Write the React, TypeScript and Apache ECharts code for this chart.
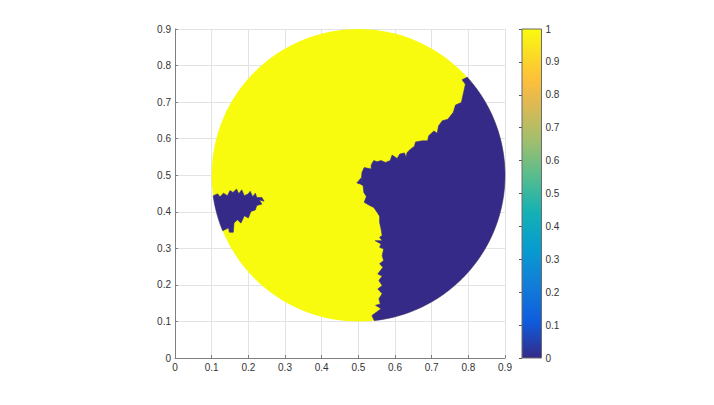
import React, { useEffect, useRef } from "react";
import * as echarts from "echarts";

// Axis ticks
const axisTicks = [0, 0.1, 0.2, 0.3, 0.4, 0.5, 0.6, 0.7, 0.8, 0.9];
const colorbarTicks = [0, 0.1, 0.2, 0.3, 0.4, 0.5, 0.6, 0.7, 0.8, 0.9, 1];

// Disk domain (value 1 everywhere except the regions below)
const diskCenter: [number, number] = [0.5, 0.5];
const diskRadius = 0.4;

// Boundary of the eastern region with value 0 (top -> bottom along the interface)
const eastBoundary: [number, number][] = [
  [0.795, 0.767], [0.783, 0.761], [0.792, 0.749], [0.781, 0.699], [0.765, 0.692],
  [0.759, 0.672], [0.744, 0.653], [0.729, 0.649], [0.719, 0.635], [0.715, 0.615],
  [0.706, 0.621], [0.692, 0.608], [0.689, 0.594], [0.674, 0.594], [0.656, 0.591],
  [0.653, 0.579], [0.642, 0.571], [0.633, 0.562], [0.630, 0.549], [0.626, 0.561],
  [0.613, 0.558], [0.606, 0.546], [0.592, 0.555], [0.587, 0.540], [0.574, 0.535],
  [0.562, 0.540], [0.551, 0.537], [0.542, 0.540], [0.535, 0.528], [0.535, 0.517],
  [0.516, 0.521], [0.510, 0.508], [0.507, 0.476], [0.513, 0.471], [0.515, 0.453],
  [0.522, 0.442], [0.516, 0.426], [0.531, 0.417], [0.542, 0.412], [0.551, 0.399],
  [0.558, 0.388], [0.558, 0.371], [0.562, 0.353], [0.565, 0.335], [0.558, 0.330],
  [0.565, 0.321], [0.546, 0.321], [0.562, 0.312], [0.558, 0.303], [0.569, 0.298],
  [0.565, 0.280], [0.569, 0.267], [0.558, 0.258], [0.567, 0.248], [0.553, 0.230],
  [0.565, 0.224], [0.556, 0.212], [0.565, 0.198], [0.553, 0.189], [0.565, 0.176],
  [0.556, 0.162], [0.560, 0.148], [0.547, 0.144], [0.562, 0.135], [0.537, 0.116],
  [0.543, 0.103],
];

// Boundary of the western region with value 0 (upper rim point -> lower rim point)
const westBoundary: [number, number][] = [
  [0.105, 0.444], [0.116, 0.449], [0.123, 0.441], [0.132, 0.451], [0.143, 0.444],
  [0.150, 0.458], [0.158, 0.453], [0.168, 0.462], [0.174, 0.449], [0.182, 0.460],
  [0.189, 0.444], [0.200, 0.449], [0.205, 0.456], [0.212, 0.441], [0.219, 0.451],
  [0.223, 0.439], [0.237, 0.439], [0.243, 0.429], [0.230, 0.432], [0.237, 0.421],
  [0.223, 0.417], [0.219, 0.405], [0.207, 0.401], [0.200, 0.383], [0.189, 0.389],
  [0.180, 0.369], [0.170, 0.378], [0.161, 0.369], [0.159, 0.344], [0.148, 0.344],
  [0.146, 0.356], [0.132, 0.349],
];

// Small isolated patch with value 0
const isletBoundary: [number, number][] = [
  [0.496, 0.479], [0.507, 0.492], [0.511, 0.474],
];

// Parula colormap stops
const parulaStops: [number, string][] = [
  [0.0, "#352A87"], [0.111, "#0F5CDD"], [0.222, "#127DD8"], [0.333, "#079CCF"],
  [0.444, "#15B1B4"], [0.556, "#59BD8C"], [0.667, "#A5BE6B"], [0.778, "#E1B952"],
  [0.84, "#FCBF3C"], [0.889, "#FCCE2E"], [1.0, "#F9FB0E"],
];
const valueHigh = "#F9FB0E";
const valueLow = "#352A87";

function closeWithArc(boundary: [number, number][], arcOpen: boolean): [number, number][] {
  if (!arcOpen) return boundary.slice();
  const [cx, cy] = diskCenter;
  const first = boundary[0];
  const last = boundary[boundary.length - 1];
  const a0 = Math.atan2(last[1] - cy, last[0] - cx);
  const a1 = Math.atan2(first[1] - cy, first[0] - cx);
  let d = a1 - a0;
  while (d > Math.PI) d -= 2 * Math.PI;
  while (d < -Math.PI) d += 2 * Math.PI;
  const n = 120;
  const pts = boundary.slice();
  for (let i = 0; i <= n; i++) {
    const a = a0 + (d * i) / n;
    pts.push([cx + diskRadius * Math.cos(a), cy + diskRadius * Math.sin(a)]);
  }
  return pts;
}

const regions = [
  { pts: eastBoundary, arc: true },
  { pts: westBoundary, arc: true },
  { pts: isletBoundary, arc: false },
];

const font = "'Liberation Sans', Arial, Helvetica, sans-serif";
const labelColor = "#333333";
const axisColor = "#7f7f7f";
const gridColor = "#e3e3e3";

export default function App() {
  const ref = useRef<HTMLDivElement>(null);
  useEffect(() => {
    if (!ref.current) return;
    const chart = echarts.init(ref.current, undefined, { renderer: "svg" });
    const option: any = {
      animation: false,
      backgroundColor: "#ffffff",
      grid: [
        { left: 175, top: 29, width: 330, height: 329 },
        { left: 522, top: 29, width: 19.5, height: 329 },
      ],
      xAxis: [
        {
          gridIndex: 0,
          type: "value",
          min: 0,
          max: 0.9,
          interval: 0.1,
          axisLine: { show: true, lineStyle: { color: axisColor, width: 1 } },
          axisTick: { show: true, inside: true, length: 3, lineStyle: { color: axisColor } },
          axisLabel: {
            margin: 4,
            fontSize: 10,
            fontFamily: font,
            color: labelColor,
            formatter: (v: number) => String(Math.round(v * 10) / 10),
          },
          splitLine: { show: true, lineStyle: { color: gridColor, width: 1 } },
        },
        {
          gridIndex: 1,
          type: "value",
          min: 0,
          max: 1,
          show: false,
        },
      ],
      yAxis: [
        {
          gridIndex: 0,
          type: "value",
          min: 0,
          max: 0.9,
          interval: 0.1,
          axisLine: { show: true, lineStyle: { color: axisColor, width: 1 } },
          axisTick: { show: true, inside: true, length: 3, lineStyle: { color: axisColor } },
          axisLabel: {
            margin: 4,
            fontSize: 10,
            fontFamily: font,
            color: labelColor,
            formatter: (v: number) => String(Math.round(v * 10) / 10),
          },
          splitLine: { show: true, lineStyle: { color: gridColor, width: 1 } },
        },
        {
          gridIndex: 1,
          type: "value",
          position: "right",
          min: 0,
          max: 1,
          interval: 0.1,
          axisLine: { show: false },
          axisTick: { show: true, inside: true, length: 3, lineStyle: { color: "#555555" } },
          axisLabel: {
            margin: 4,
            fontSize: 10,
            fontFamily: font,
            color: labelColor,
            formatter: (v: number) => String(Math.round(v * 10) / 10),
          },
          splitLine: { show: false },
        },
      ],
      series: [
        {
          type: "custom",
          xAxisIndex: 0,
          yAxisIndex: 0,
          data: [[diskCenter[0], diskCenter[1], diskRadius]],
          z: 2,
          silent: true,
          renderItem: (params: any, api: any) => {
            const c = api.coord([api.value(0), api.value(1)]);
            const e = api.coord([api.value(0) + api.value(2), api.value(1)]);
            const t = api.coord([api.value(0), api.value(1) + api.value(2)]);
            return {
              type: "ellipse",
              shape: { cx: c[0], cy: c[1], rx: e[0] - c[0], ry: c[1] - t[1] },
              style: { fill: valueHigh },
            };
          },
        },
        {
          type: "custom",
          xAxisIndex: 0,
          yAxisIndex: 0,
          data: regions.map((_, i) => [i]),
          z: 3,
          silent: true,
          renderItem: (params: any, api: any) => {
            const reg = regions[params.dataIndex];
            const pts = closeWithArc(reg.pts, reg.arc).map((p) => api.coord(p));
            return {
              type: "polygon",
              shape: { points: pts },
              style: { fill: valueLow, stroke: valueLow, lineWidth: 0.6 },
            };
          },
        },
        {
          type: "custom",
          xAxisIndex: 1,
          yAxisIndex: 1,
          data: [[0, 0, 1, 1]],
          z: 2,
          silent: true,
          renderItem: (params: any, api: any) => {
            const p0 = api.coord([api.value(0), api.value(1)]);
            const p1 = api.coord([api.value(2), api.value(3)]);
            return {
              type: "rect",
              shape: { x: p0[0], y: p1[1], width: p1[0] - p0[0], height: p0[1] - p1[1] },
              style: {
                fill: new echarts.graphic.LinearGradient(
                  0, 1, 0, 0,
                  parulaStops.map(([offset, color]) => ({ offset, color }))
                ),
                stroke: "#6b6b6b",
                lineWidth: 1,
              },
            };
          },
        },
      ],
    };
    chart.setOption(option);
    return () => chart.dispose();
  }, []);
  return (
    <div
      ref={ref}
      style={{ position: "absolute", left: 0, top: 0, width: 714, height: 405 }}
    />
  );
}
